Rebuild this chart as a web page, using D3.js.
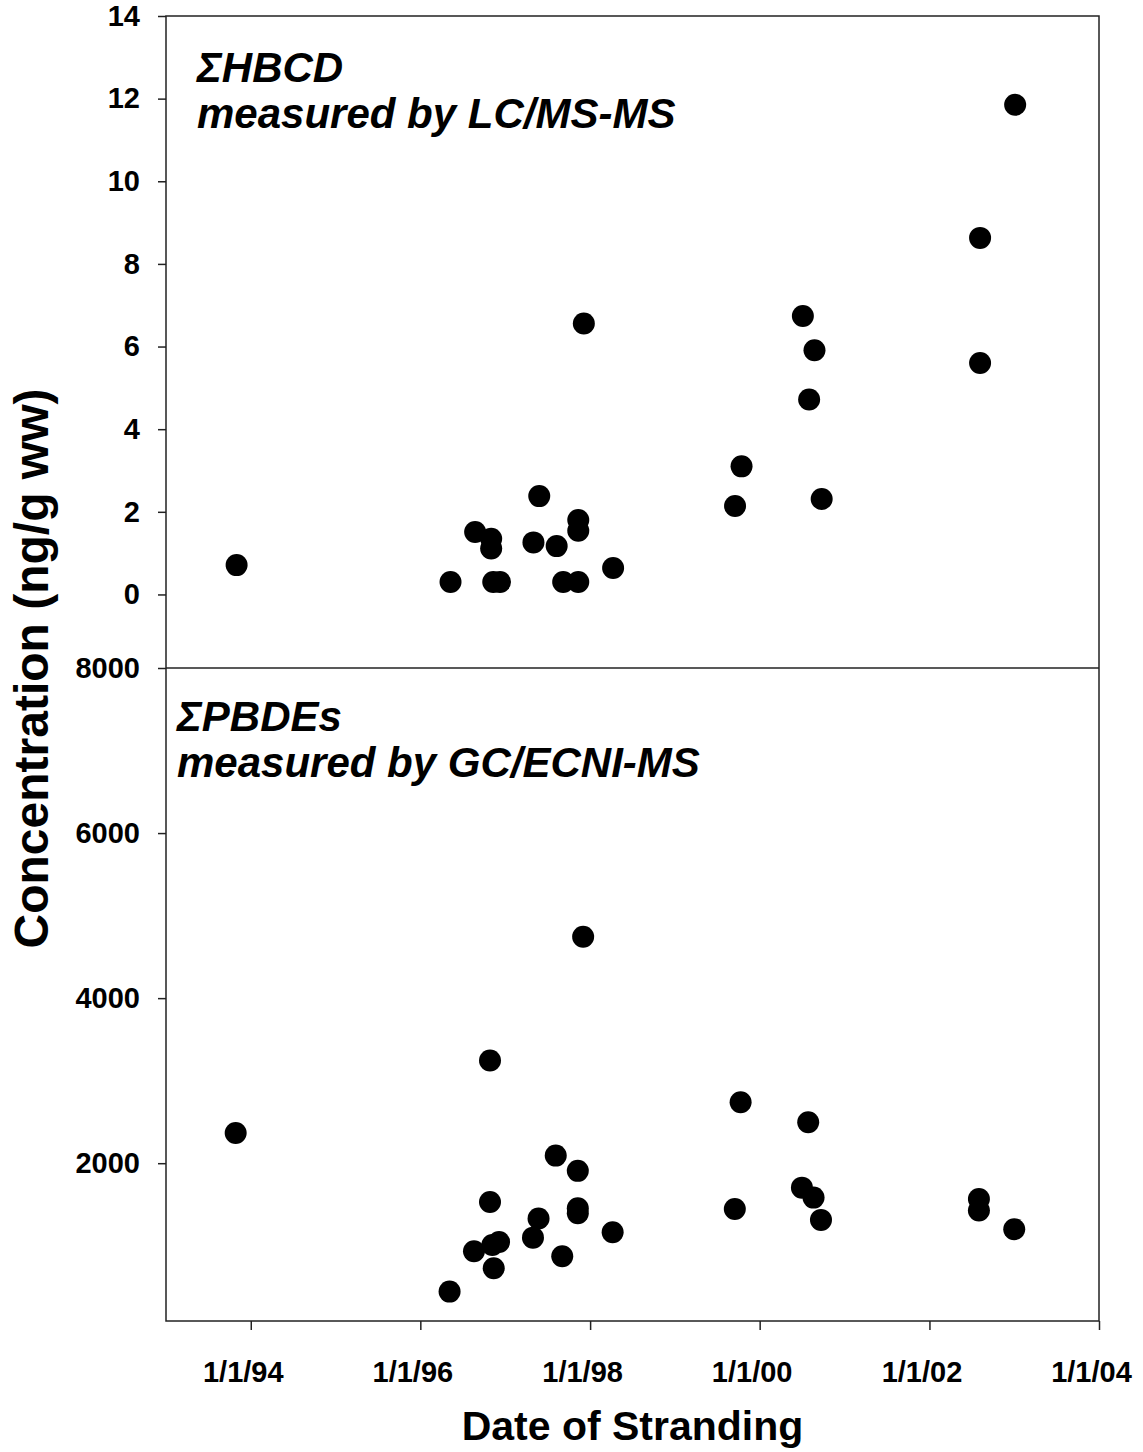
<!DOCTYPE html>
<html>
<head>
<meta charset="utf-8">
<script src="https://cdn.jsdelivr.net/npm/d3@7"></script>
<style>
  body { margin: 0; background: #fff; }
  text { font-family: "Liberation Sans", Arial, sans-serif; font-weight: bold; fill: #000; }
</style>
</head>
<body>
<div id="chart"></div>
<script>
// HBCD panel (ng/g ww)
let hbcdDates = ["1993-11-01", "1996-05-10", "1996-08-24", "1996-11-01", "1996-11-01", "1996-11-10",
    "1996-12-09", "1997-05-27", "1997-05-02", "1997-08-10", "1997-11-11", "1997-11-11", "1997-09-07",
    "1997-11-11", "1998-04-10", "1997-12-05", "2003-01-05", "2002-08-07", "2002-08-07", "2000-07-05",
    "2000-08-24", "2000-08-01", "1999-10-15", "1999-09-17", "2000-09-24"];
let hbcdValues = [0.71, 0.30, 1.51, 1.35, 1.11, 0.30,
    0.30, 2.38, 1.26, 1.17, 1.80, 1.54, 0.30,
    0.30, 0.64, 6.56, 11.85, 8.63, 5.60, 6.74,
    5.91, 4.72, 3.10, 2.14, 2.31];

// PBDE panel (ng/g ww)
let pbdeDates = ["1993-10-28", "1997-12-02", "1996-10-27", "1997-08-06", "1997-11-09", "1996-10-27",
    "1997-11-09", "1997-11-09", "1997-05-24", "1998-04-08", "1997-04-30", "1996-12-05", "1996-11-06",
    "1996-08-19", "1997-09-03", "1996-11-12", "1996-05-06", "1999-10-11", "2000-07-28", "1999-09-16",
    "2000-07-01", "2000-08-20", "2000-09-21", "2002-08-02", "2002-08-02", "2003-01-01"];
let pbdeValues = [2367, 4743, 3244, 2092, 1907, 1531,
    1455, 1394, 1329, 1164, 1098, 1046, 1010,
    933, 873, 727, 444, 2739, 2497, 1446,
    1704, 1583, 1313, 1567, 1426, 1200];

let hbcdTicks = [0, 2, 4, 6, 8, 10, 12, 14];
let pbdeTicks = [2000, 4000, 6000, 8000];
let dateTicks = ["1994-01-01", "1996-01-01", "1998-01-01", "2000-01-01", "2002-01-01", "2004-01-01"];
let dateTickLabels = ["1/1/94", "1/1/96", "1/1/98", "1/1/00", "1/1/02", "1/1/04"];

let parseDate = d3.timeParse("%Y-%m-%d");

let plotLeft = 166, plotRight = 1099;
let plotTop = 16, plotMid = 668, plotBottom = 1321;

let svg = d3.select("#chart")
    .append("svg")
    .attr("width", 1143)
    .attr("height", 1452);

// scales
let xScale = d3.scaleTime()
    .domain([parseDate("1993-01-01"), parseDate("2004-01-01")])
    .range([plotLeft, plotRight]);

let yTop = d3.scaleLinear()
    .domain([-1.78, 14])
    .range([plotMid, plotTop]);

let yBottom = d3.scaleLinear()
    .domain([88, 8000])
    .range([plotBottom, plotMid]);

function styleAxis(g) {
    g.select(".domain").remove();
    g.selectAll(".tick line").attr("stroke", "#222").attr("stroke-width", 1.5);
    g.selectAll(".tick text").attr("font-size", "29px").attr("fill", "#000");
}

// y axes
svg.append("g")
    .attr("transform", `translate(${plotLeft},0)`)
    .call(d3.axisLeft(yTop).tickValues(hbcdTicks).tickSize(8).tickPadding(18).tickFormat(d3.format("d")))
    .call(styleAxis);

svg.append("g")
    .attr("transform", `translate(${plotLeft},0)`)
    .call(d3.axisLeft(yBottom).tickValues(pbdeTicks).tickSize(8).tickPadding(18).tickFormat(d3.format("d")))
    .call(styleAxis);

// x axis
let xAxis = svg.append("g")
    .attr("transform", `translate(0,${plotBottom})`)
    .call(d3.axisBottom(xScale)
        .tickValues(dateTicks.map(parseDate))
        .tickSize(9)
        .tickPadding(31)
        .tickFormat((d, i) => dateTickLabels[i]))
    .call(styleAxis);
xAxis.selectAll(".tick text").attr("dx", -8);

// frame
svg.append("rect")
    .attr("x", plotLeft)
    .attr("y", plotTop)
    .attr("width", plotRight - plotLeft)
    .attr("height", plotBottom - plotTop)
    .attr("fill", "none")
    .attr("stroke", "#222")
    .attr("stroke-width", 1.5);

svg.append("line")
    .attr("x1", plotLeft)
    .attr("x2", plotRight)
    .attr("y1", plotMid)
    .attr("y2", plotMid)
    .attr("stroke", "#222")
    .attr("stroke-width", 1.5);

// points
svg.append("g")
    .selectAll("circle")
    .data(hbcdDates)
    .enter()
    .append("circle")
    .attr("cx", d => xScale(parseDate(d)))
    .attr("cy", (d, i) => yTop(hbcdValues[i]))
    .attr("r", 11)
    .attr("fill", "#000");

svg.append("g")
    .selectAll("circle")
    .data(pbdeDates)
    .enter()
    .append("circle")
    .attr("cx", d => xScale(parseDate(d)))
    .attr("cy", (d, i) => yBottom(pbdeValues[i]))
    .attr("r", 11)
    .attr("fill", "#000");

// panel labels
let topLabel = svg.append("text")
    .attr("font-size", "42px")
    .attr("font-style", "italic");
topLabel.append("tspan").attr("x", 197).attr("y", 82).text("\u03A3HBCD");
topLabel.append("tspan").attr("x", 197).attr("y", 128).text("measured by LC/MS-MS");

let bottomLabel = svg.append("text")
    .attr("font-size", "42px")
    .attr("font-style", "italic");
bottomLabel.append("tspan").attr("x", 177).attr("y", 731).text("\u03A3PBDEs");
bottomLabel.append("tspan").attr("x", 177).attr("y", 777).text("measured by GC/ECNI-MS");

// axis titles
svg.append("text")
    .attr("transform", `translate(48,${(plotTop + plotBottom) / 2}) rotate(-90)`)
    .attr("text-anchor", "middle")
    .attr("font-size", "48px")
    .text("Concentration (ng/g ww)");

svg.append("text")
    .attr("x", (plotLeft + plotRight) / 2)
    .attr("y", 1440)
    .attr("text-anchor", "middle")
    .attr("font-size", "41px")
    .text("Date of Stranding");
</script>
</body>
</html>
